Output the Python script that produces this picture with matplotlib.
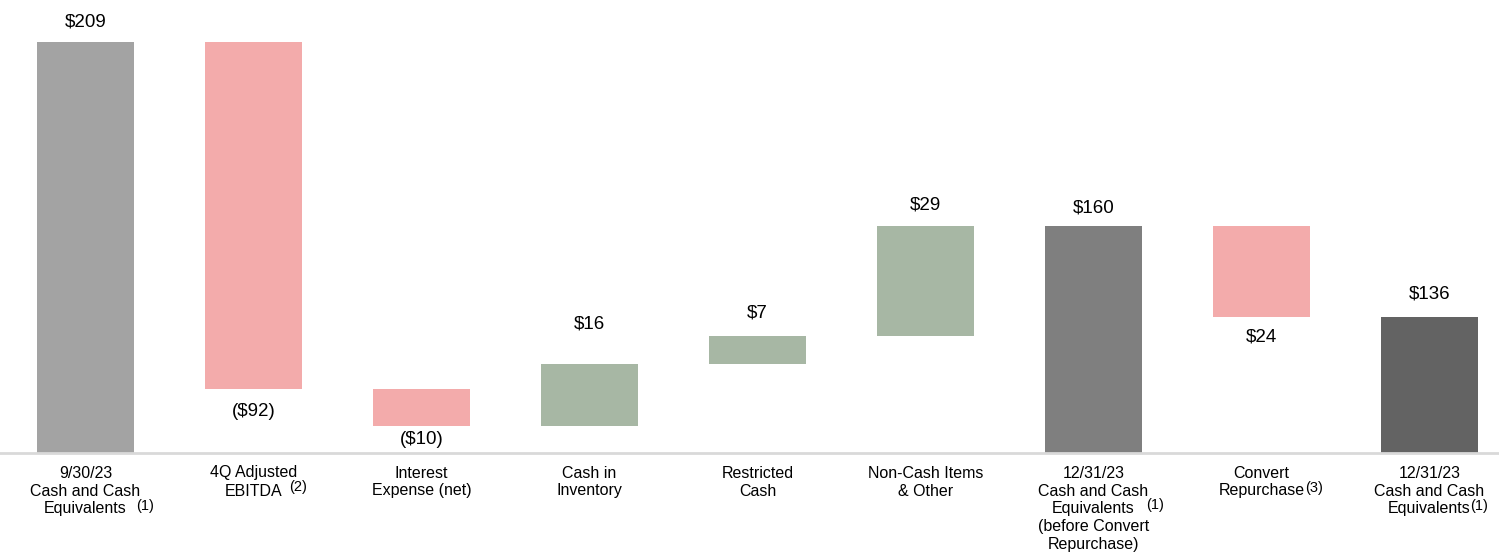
import numpy as np
import matplotlib.pyplot as plt
import matplotlib

matplotlib.rcParams['font.family'] = ['Liberation Sans', 'DejaVu Sans']

categories = ['9/30/23\nCash and Cash\nEquivalents',
              '4Q Adjusted\nEBITDA',
              'Interest\nExpense (net)',
              'Cash in\nInventory',
              'Restricted\nCash',
              'Non-Cash Items\n& Other',
              '12/31/23\nCash and Cash\nEquivalents\n(before Convert\nRepurchase)',
              'Convert\nRepurchase',
              '12/31/23\nCash and Cash\nEquivalents']
notes = ['(1)', '(2)', '', '', '', '', '(1)', '(3)', '(1)']
value_labels = ['$209', '($92)', '($10)', '$16', '$7', '$29', '$160', '$24', '$136']
# bar steps as drawn on the slide (not to scale with the labels); None = running total
drawn_steps = [411, -347, -37, 62, 28, 110, None, -91, None]
kinds = ['total', 'down', 'down', 'up', 'up', 'up', 'total', 'down', 'total']

colors = {'down': '#F3ABAB', 'up': '#A7B7A4'}
total_colors = ['#A3A3A3', '#7F7F7F', '#636363']

fig = plt.figure(figsize=(14.99, 5.53), dpi=100, facecolor='white')
ax = fig.add_axes([0, 100 / 553, 1, 453 / 553])

x = np.arange(len(categories))
level = 0
tc = 0
bottoms, heights, cols = [], [], []
for i, s in enumerate(drawn_steps):
    if s is None:
        bottoms.append(0)
        heights.append(level)
    elif kinds[i] == 'total':
        level = s
        bottoms.append(0)
        heights.append(s)
    else:
        bottoms.append(level)
        heights.append(s)
        level += s
    if kinds[i] == 'total':
        cols.append(total_colors[tc])
        tc += 1
    else:
        cols.append(colors[kinds[i]])

ax.bar(x, heights, bottom=bottoms, width=0.577, color=cols, zorder=2)

# value labels: above for increases/totals, below for decreases (offset in px)
label_gap = [20, 23, 13, 40, 23, 21, 18, 20, 23]
for i in range(len(x)):
    top = max(bottoms[i], bottoms[i] + heights[i])
    bot = min(bottoms[i], bottoms[i] + heights[i])
    if kinds[i] == 'down':
        ax.annotate(value_labels[i], (x[i], bot), xytext=(0, -label_gap[i] * 0.72),
                    textcoords='offset points', ha='center', va='center', fontsize=13.5)
    else:
        ax.annotate(value_labels[i], (x[i], top), xytext=(0, label_gap[i] * 0.72),
                    textcoords='offset points', ha='center', va='center', fontsize=13.5)

ax.set_xlim(-0.509, 8.414)
ax.set_ylim(0, 453)
ax.set_xticks([])
ax.set_yticks([])
for sp in ['top', 'left', 'right']:
    ax.spines[sp].set_visible(False)
ax.spines['bottom'].set_color('#D9D9D9')
ax.spines['bottom'].set_linewidth(2)

# category labels, one text per line (first line 20px under the baseline, 18px line step)
for i, cat in enumerate(categories):
    for k, line in enumerate(cat.split('\n')):
        ax.annotate(line, (x[i], 0), xytext=(0, -(20 + 18 * k) * 0.72),
                    textcoords='offset points', ha='center', va='center',
                    fontsize=11.5, annotation_clip=False)

# footnote markers next to the category labels (offsets in px from bar centre / baseline)
note_pos = [(60, 53), (45, 34), None, None, None, None, (62, 52), (53, 35), (50, 53)]
for i, n in enumerate(notes):
    if n:
        dx, dy = note_pos[i]
        ax.annotate(n, (x[i], 0), xytext=(dx * 0.72, -dy * 0.72), textcoords='offset points',
                    ha='center', va='center', fontsize=10.5, annotation_clip=False)

plt.savefig('out.png', dpi=100)
